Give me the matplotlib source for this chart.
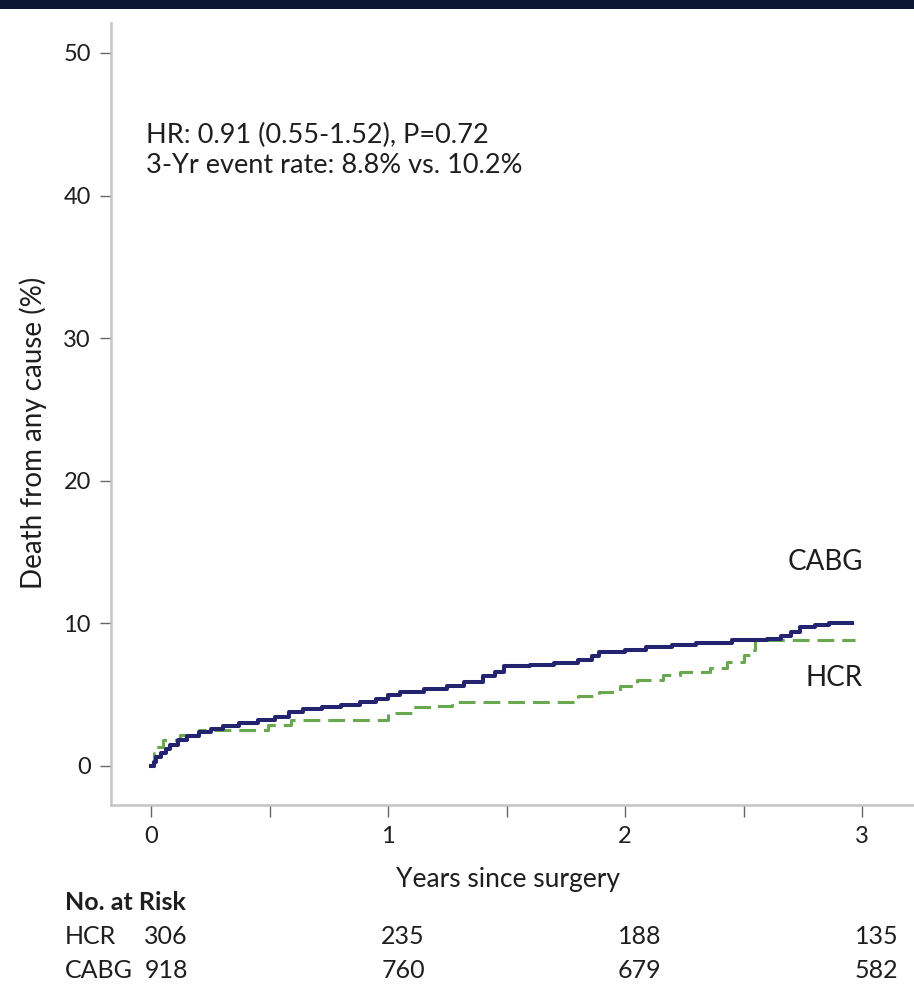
import matplotlib
matplotlib.use("Agg")
import matplotlib.pyplot as plt
import matplotlib.transforms as mtransforms
from matplotlib.patches import Rectangle

plt.rcParams["font.family"] = ["Lato", "DejaVu Sans"]

# Kaplan-Meier style cumulative event curves
years_cabg = [0, 0.01, 0.02, 0.04, 0.06, 0.08, 0.11, 0.15, 0.20, 0.25,
              0.30, 0.37, 0.45, 0.52, 0.58, 0.64, 0.72, 0.80, 0.88, 0.95,
              1.00, 1.05, 1.15, 1.25, 1.32, 1.40, 1.45, 1.49, 1.60, 1.70,
              1.80, 1.86, 1.89, 2.00, 2.09, 2.20, 2.30, 2.45, 2.60, 2.66,
              2.70, 2.74, 2.80, 2.86, 2.96]
cabg_pct = [0, 0.3, 0.6, 0.9, 1.2, 1.5, 1.8, 2.1, 2.4, 2.6,
            2.8, 3.0, 3.2, 3.4, 3.8, 4.0, 4.1, 4.3, 4.5, 4.7,
            5.0, 5.2, 5.4, 5.6, 5.9, 6.3, 6.6, 7.0, 7.1, 7.25,
            7.4, 7.7, 8.0, 8.1, 8.35, 8.5, 8.65, 8.8, 8.9, 9.1,
            9.4, 9.75, 9.9, 10.05, 10.05]

years_hcr = [0, 0.01, 0.02, 0.05, 0.12, 0.20, 0.49, 0.59, 1.00, 1.10,
             1.19, 1.27, 1.80, 1.89, 1.98, 2.05, 2.16, 2.23, 2.36, 2.43,
             2.50, 2.53, 2.55, 2.97]
hcr_pct = [0, 0.9, 1.35, 1.8, 2.2, 2.5, 2.9, 3.2, 3.7, 4.1,
           4.2, 4.5, 4.9, 5.2, 5.6, 6.0, 6.4, 6.6, 6.85, 7.3,
           7.8, 8.1, 8.8, 8.8]

risk_years = [0, 1, 2, 3]
risk_hcr = [306, 235, 188, 135]
risk_cabg = [918, 760, 679, 582]

y_ticks = [0, 10, 20, 30, 40, 50]
x_major = [0, 1, 2, 3]
x_minor = [0.5, 1.5, 2.5]

NAVY = "#23236f"
GREEN = "#6aa84f"
TXT = "#1e1e1e"

W, H = 914, 985
fig = plt.figure(figsize=(W / 100, H / 100), dpi=100)
fig.patch.set_facecolor("white")
fig.add_artist(Rectangle((0, 1 - 9 / H), 1, 9 / H, transform=fig.transFigure,
                         facecolor="#0b1735", edgecolor="none"))

ax = fig.add_axes([111 / W, (H - 805) / H, (W - 111) / W, (805 - 23) / H])
ax.step(years_hcr, hcr_pct, where="post", color=GREEN, lw=2.2,
        dashes=(5.5, 2.6), zorder=2)
ax.step(years_cabg, cabg_pct, where="post", color=NAVY, lw=2.9, zorder=3)

ax.set_xlim(-0.171, 3.22)
ax.set_ylim(-2.74, 52.1)
ax.set_yticks(y_ticks)
ax.set_xticks(x_major)
ax.set_xticks(x_minor, minor=True)

for side in ["top", "right"]:
    ax.spines[side].set_visible(False)
for side in ["left", "bottom"]:
    ax.spines[side].set_color("#c4c4c4")
    ax.spines[side].set_linewidth(1.8)

ax.tick_params(axis="y", length=8, width=1, color="#666666", pad=6.5,
               labelsize=17, labelcolor=TXT)
ax.tick_params(axis="x", which="both", length=8.5, width=1, color="#666666",
               pad=6.5, labelsize=17, labelcolor=TXT)

ax.text(-0.023, 43.7, "HR: 0.91 (0.55-1.52), P=0.72", fontsize=19.5,
        color=TXT, va="baseline")
ax.text(-0.023, 41.6, "3-Yr event rate: 8.8% vs. 10.2%", fontsize=19.5,
        color=TXT, va="baseline")
ax.text(3.005, 14.3, "CABG", fontsize=20, color=TXT, ha="right", va="center")
ax.text(3.005, 6.2, "HCR", fontsize=20, color=TXT, ha="right", va="center")

fig.text(33 / W, 1 - 433 / H, "Death from any cause (%)", rotation=90,
         fontsize=20, color=TXT, ha="center", va="center")
fig.text(508 / W, 1 - 880 / H, "Years since surgery", fontsize=19,
         color=TXT, ha="center", va="center")

# number at risk table
fig.text(65 / W, 1 - 903 / H, "No. at Risk", fontsize=18, fontweight="bold",
         color=TXT, ha="left", va="center")
fig.text(65 / W, 1 - 937 / H, "HCR", fontsize=18, color=TXT, ha="left", va="center")
fig.text(65 / W, 1 - 970 / H, "CABG", fontsize=18, color=TXT, ha="left", va="center")
trans = mtransforms.blended_transform_factory(ax.transData, fig.transFigure)
for t, n_h, n_c in zip(risk_years, risk_hcr, risk_cabg):
    ax.text(t - 0.03, 1 - 937 / H, str(n_h), transform=trans, fontsize=18,
            color=TXT, ha="left", va="center", clip_on=False)
    ax.text(t - 0.03, 1 - 970 / H, str(n_c), transform=trans, fontsize=18,
            color=TXT, ha="left", va="center", clip_on=False)

fig.savefig("out.png", dpi=100)
